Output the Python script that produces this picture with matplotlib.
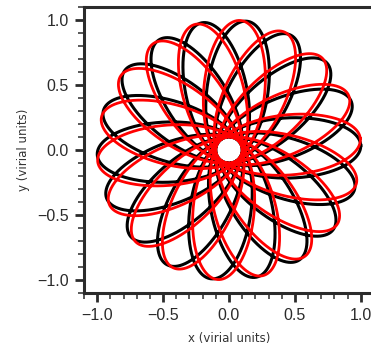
import numpy as np
import matplotlib
matplotlib.use('Agg')
import matplotlib.pyplot as plt
from matplotlib.ticker import MultipleLocator

# orbit parameters (virial units)
apsidal_angle = 260.0        # degrees between successive apocentres (petals ~20 deg apart)
apocentre = [1.0, 1.0]       # black, red
pericentre = [0.10, 0.10]
start_angle = [2.0, 5.0]     # degrees, direction of the first apocentre
n_radial = [18, 18]          # radial periods drawn
colours = ['k', 'r']
line_widths = [2.2, 2.0]

xticks = [-1.0, -0.5, 0.0, 0.5, 1.0]
yticks = [-1.0, -0.5, 0.0, 0.5, 1.0]


def potential(r, b):
    return -1.0 / np.sqrt(r**2 + b**2)


def energy_and_L(r_apo, r_peri, b):
    L2 = 2 * (potential(r_apo, b) - potential(r_peri, b)) / (1 / r_peri**2 - 1 / r_apo**2)
    E = potential(r_apo, b) + 0.5 * L2 / r_apo**2
    return E, np.sqrt(L2)


def apsidal(r_apo, r_peri, b, n=4000):
    #angle swept from apocentre to apocentre, midpoint rule in u
    E, L = energy_and_L(r_apo, r_peri, b)
    u = (np.arange(n) + 0.5) * np.pi / n
    r = r_peri + (r_apo - r_peri) * (1 - np.cos(u)) / 2
    drdu = (r_apo - r_peri) * np.sin(u) / 2
    f = L / r**2 / np.sqrt(np.maximum(2 * (E - potential(r, b)) - L**2 / r**2, 1e-30)) * drdu
    return np.degrees(2 * f.sum() * np.pi / n)


def find_softening(r_apo, r_peri, target):
    lo, hi = 0.005, 2.0
    for _ in range(60):
        mid = 0.5 * (lo + hi)
        if apsidal(r_apo, r_peri, mid) > target:
            lo = mid
        else:
            hi = mid
    return 0.5 * (lo + hi)


def orbit(r_apo, r_peri, angle, n_rad, b, dt=5e-4):
    E, L = energy_and_L(r_apo, r_peri, b)
    a = np.radians(angle)
    pos = np.array([r_apo * np.cos(a), r_apo * np.sin(a)])
    vel = L / r_apo * np.array([-np.sin(a), np.cos(a)])
    acc = -pos / (pos @ pos + b**2)**1.5
    xs, ys, rs = [pos[0]], [pos[1]], [r_apo]
    n_apo = 0
    #leapfrog until the wanted number of apocentres is reached
    while n_apo < n_rad:
        vel = vel + 0.5 * dt * acc
        pos = pos + dt * vel
        acc = -pos / (pos @ pos + b**2)**1.5
        vel = vel + 0.5 * dt * acc
        xs.append(pos[0])
        ys.append(pos[1])
        rs.append(np.hypot(pos[0], pos[1]))
        if rs[-2] > rs[-1] and len(rs) > 2 and rs[-2] > rs[-3]:
            n_apo += 1
    return np.array(xs), np.array(ys)


plt.rcParams['font.family'] = ['Liberation Sans', 'DejaVu Sans']

fig = plt.figure(figsize=(3.71, 3.47), dpi=100)
ax = fig.add_axes([0.2264, 0.1556, 0.7817, 0.8242])

for i in range(2):
    b = find_softening(apocentre[i], pericentre[i], apsidal_angle)
    x, y = orbit(apocentre[i], pericentre[i], start_angle[i], n_radial[i], b)
    ax.plot(x, y, color=colours[i], lw=line_widths[i])

ax.set_xlim(-1.1, 1.1)
ax.set_ylim(-1.1, 1.1)
ax.set_xticks(xticks)
ax.set_yticks(yticks)
ax.xaxis.set_minor_locator(MultipleLocator(0.1))
ax.yaxis.set_minor_locator(MultipleLocator(0.1))
ax.tick_params(which='major', length=6.5, width=2, pad=4.5, labelsize=11.5,
               labelcolor='#2b2b2b', color='#2b2b2b')
ax.tick_params(which='minor', length=4, width=1.1, color='#2b2b2b')
for s in ax.spines.values():
    s.set_linewidth(2.2)
    s.set_color('#2b2b2b')

ax.set_xlabel('x (virial units)', fontsize=8.5, family='DejaVu Sans', color='#333333', labelpad=6)
ax.set_ylabel('y (virial units)', fontsize=8.5, family='DejaVu Sans', color='#333333', labelpad=5)

fig.savefig('out.png', dpi=100)
